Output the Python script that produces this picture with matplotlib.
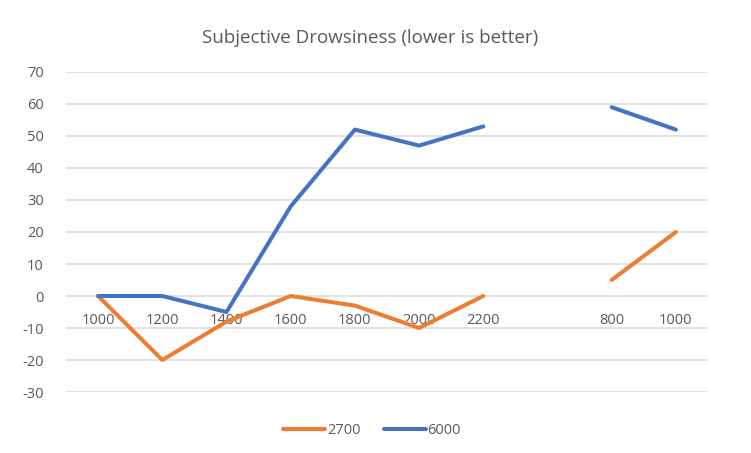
import matplotlib
matplotlib.use("Agg")
import matplotlib.pyplot as plt
import numpy as np

categories = ["1000", "1200", "1400", "1600", "1800", "2000", "2200", "", "800", "1000"]
s2700 = [0, -20, -8, 0, -3, -10, 0, np.nan, 5, 20]
s6000 = [0, 0, -5, 28, 52, 47, 53, np.nan, 59, 52]
series_names = ["2700", "6000"]
yticks = list(range(-30, 71, 10))

plt.rcParams['font.family'] = ['Open Sans', 'DejaVu Sans']
fig = plt.figure(figsize=(7.51, 4.53), dpi=100)
ax = fig.add_axes([66/751, 1-392/453, (708-66)/751, (392-72)/453])

x = np.arange(len(categories))
l1, = ax.plot(x, s2700, color="#ED7D31", lw=2.9, solid_capstyle="round", solid_joinstyle="round", label=series_names[0])
l2, = ax.plot(x, s6000, color="#4472C4", lw=2.9, solid_capstyle="round", solid_joinstyle="round", label=series_names[1])

ax.set_xlim(-0.5, len(categories)-0.5)
ax.set_ylim(-30, 70)
ax.set_yticks(yticks)
ax.set_yticklabels([str(v) for v in yticks], color="#595959", fontsize=10.5)
ax.tick_params(axis="y", length=0, pad=16)
ax.set_xticks([])
for yv in yticks:
    ax.axhline(yv, color="#D9D9D9", lw=1.1, zorder=0)
for s in ax.spines.values():
    s.set_visible(False)

for i, c in enumerate(categories):
    ax.annotate(c, (x[i], 0), xytext=(0, -17.5), textcoords="offset points",
                ha="center", va="center", color="#595959", fontsize=10.5, zorder=1)

fig.text(370/751, 1-38/453, "Subjective Drowsiness (lower is better)", ha="center", va="center",
         color="#595959", fontsize=13.5)

fig.legend(handles=[l1, l2], loc="center", bbox_to_anchor=(372/751, 1-431/453), ncol=2,
           frameon=False, fontsize=10.5, handlelength=2.9, handletextpad=0.1, columnspacing=1.6,
           labelcolor="#595959")

fig.savefig("out.png", dpi=100)
